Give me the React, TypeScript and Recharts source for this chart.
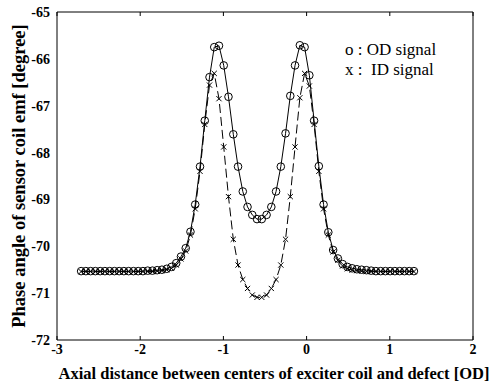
import React from 'react';
import { LineChart, Line, XAxis, YAxis, Label } from 'recharts';

// sample positions along the axis [OD]
const xPos = [
  -2.71, -2.653, -2.596, -2.539, -2.481, -2.424, -2.367, -2.31, -2.253, -2.196,
  -2.139, -2.081, -2.024, -1.967, -1.91, -1.853, -1.796, -1.739, -1.681, -1.624,
  -1.567, -1.51, -1.453, -1.396, -1.339, -1.281, -1.224, -1.167, -1.11, -1.053,
  -0.996, -0.939, -0.881, -0.824, -0.767, -0.71, -0.653, -0.596, -0.539, -0.481,
  -0.424, -0.367, -0.31, -0.253, -0.196, -0.139, -0.081, -0.024, 0.033, 0.09,
  0.147, 0.204, 0.261, 0.319, 0.376, 0.433, 0.49, 0.547, 0.604, 0.661,
  0.719, 0.776, 0.833, 0.89, 0.947, 1.004, 1.061, 1.119, 1.176, 1.233, 1.29,
];

// phase angle [degree], OD defect
const odSignal = [
  -70.53, -70.53, -70.53, -70.53, -70.53, -70.53, -70.53, -70.53, -70.53, -70.53,
  -70.53, -70.53, -70.53, -70.53, -70.52, -70.52, -70.51, -70.5, -70.48, -70.44,
  -70.36, -70.22, -70.04, -69.69, -69.11, -68.3, -67.32, -66.39, -65.75, -65.72,
  -66.14, -66.81, -67.61, -68.3, -68.83, -69.16, -69.33, -69.42, -69.42, -69.33,
  -69.16, -68.83, -68.3, -67.59, -66.79, -66.14, -65.71, -65.75, -66.35, -67.32,
  -68.29, -69.11, -69.7, -70.08, -70.26, -70.38, -70.44, -70.47, -70.49, -70.5,
  -70.51, -70.52, -70.53, -70.53, -70.53, -70.53, -70.53, -70.53, -70.53, -70.53, -70.53,
];

// phase angle [degree], ID defect
const idSignal = [
  -70.54, -70.54, -70.54, -70.54, -70.54, -70.54, -70.54, -70.54, -70.54, -70.54,
  -70.54, -70.54, -70.54, -70.54, -70.54, -70.54, -70.53, -70.52, -70.5, -70.47,
  -70.4, -70.27, -70.1, -69.76, -69.2, -68.4, -67.4, -66.56, -66.31, -66.85,
  -67.88, -68.94, -69.85, -70.4, -70.71, -70.9, -71.04, -71.09, -71.09, -71.04,
  -70.9, -70.71, -70.4, -69.85, -68.94, -67.88, -66.83, -66.31, -66.58, -67.4,
  -68.4, -69.2, -69.76, -70.12, -70.3, -70.42, -70.48, -70.51, -70.52, -70.53,
  -70.54, -70.54, -70.54, -70.54, -70.54, -70.54, -70.54, -70.54, -70.54, -70.54, -70.54,
];

const xTicks = [-3, -2, -1, 0, 1, 2];
const yTicks = [-72, -71, -70, -69, -68, -67, -66, -65];

const rows = xPos.map((x, i) => ({ x, od: odSignal[i], id: idSignal[i] }));

const serif = '"Liberation Serif", "Times New Roman", serif';

// tick labels in bold serif, like the original figure
const XTick = (p: any) => (
  <text
    x={p.x}
    y={p.y}
    dy={11}
    textAnchor="middle"
    fill="#000"
    fontSize={14}
    fontWeight="bold"
    fontFamily={serif}
  >
    {p.payload.value}
  </text>
);

const YTick = (p: any) => (
  <text
    x={p.x}
    y={p.y}
    dy={5}
    textAnchor="end"
    fill="#000"
    fontSize={14}
    fontWeight="bold"
    fontFamily={serif}
  >
    {p.payload.value}
  </text>
);

const CircleDot = (p: any) => (
  <circle key={`o${p.index}`} cx={p.cx} cy={p.cy} r={3.8} stroke="#000" strokeWidth={1} fill="none" />
);

const CrossDot = (p: any) => {
  const s = 2.6;
  return (
    <path
      key={`x${p.index}`}
      d={`M${p.cx - s},${p.cy - s}L${p.cx + s},${p.cy + s}M${p.cx - s},${p.cy + s}L${p.cx + s},${p.cy - s}`}
      stroke="#000"
      strokeWidth={1}
      fill="none"
    />
  );
};

export default function App() {
  return (
    <div style={{ position: 'absolute', left: 0, top: 0, width: 493, height: 389, background: '#fff' }}>
      <LineChart width={493} height={389} data={rows} margin={{ top: 12, right: 20, left: 0, bottom: 0 }}>
        <XAxis
          dataKey="x"
          type="number"
          domain={[-3, 2]}
          ticks={xTicks}
          interval={0}
          allowDataOverflow
          height={49}
          tickLine={false}
          tickSize={0}
          tickMargin={3}
          axisLine={{ stroke: '#000' }}
          tick={XTick}
        >
          <Label
            value="Axial distance between centers of exciter coil and defect [OD]"
            position="insideBottom"
            offset={10}
            dx={9}
            fill="#000"
            fontSize={16.5}
            fontWeight="bold"
            fontFamily={serif}
          />
        </XAxis>
        <XAxis
          xAxisId="bottomTicks"
          dataKey="x"
          type="number"
          domain={[-3, 2]}
          ticks={xTicks}
          interval={0}
          mirror
          tickSize={4}
          tickFormatter={() => ''}
          axisLine={false}
          tickLine={{ stroke: '#000' }}
        />
        <XAxis
          xAxisId="top"
          orientation="top"
          dataKey="x"
          type="number"
          domain={[-3, 2]}
          ticks={xTicks}
          interval={0}
          mirror
          tickSize={4}
          tickFormatter={() => ''}
          axisLine={{ stroke: '#000' }}
          tickLine={{ stroke: '#000' }}
        />
        <YAxis
          type="number"
          domain={[-72, -65]}
          ticks={yTicks}
          interval={0}
          allowDataOverflow
          width={57}
          tickLine={false}
          tickSize={0}
          tickMargin={7}
          axisLine={{ stroke: '#000' }}
          tick={YTick}
        >
          <Label
            value="Phase angle of sensor coil emf [degree]"
            position="insideLeft"
            angle={-90}
            offset={18}
            fill="#000"
            fontSize={18.5}
            fontWeight="bold"
            fontFamily={serif}
            style={{ textAnchor: 'middle' }}
          />
        </YAxis>
        <YAxis
          yAxisId="leftTicks"
          type="number"
          domain={[-72, -65]}
          ticks={yTicks}
          interval={0}
          mirror
          tickSize={4}
          tickFormatter={() => ''}
          axisLine={false}
          tickLine={{ stroke: '#000' }}
        />
        <YAxis
          yAxisId="right"
          orientation="right"
          type="number"
          domain={[-72, -65]}
          ticks={yTicks}
          interval={0}
          mirror
          tickSize={4}
          tickFormatter={() => ''}
          axisLine={{ stroke: '#000' }}
          tickLine={{ stroke: '#000' }}
        />
        <Line
          type="linear"
          dataKey="id"
          stroke="#000"
          strokeWidth={1}
          strokeDasharray="9 4"
          dot={CrossDot}
          activeDot={false}
          isAnimationActive={false}
        />
        <Line
          type="linear"
          dataKey="od"
          stroke="#000"
          strokeWidth={1}
          dot={CircleDot}
          activeDot={false}
          isAnimationActive={false}
        />
      </LineChart>
      <svg
        width={493}
        height={389}
        style={{ position: 'absolute', left: 0, top: 0, pointerEvents: 'none' }}
      >
        <text x={345} y={55} fontFamily={serif} fontSize={17} fill="#000" style={{ whiteSpace: 'pre' }}>
          o : OD signal
        </text>
        <text x={345} y={75} fontFamily={serif} fontSize={17} fill="#000" style={{ whiteSpace: 'pre' }}>
          {'x :  ID signal'}
        </text>
      </svg>
    </div>
  );
}
